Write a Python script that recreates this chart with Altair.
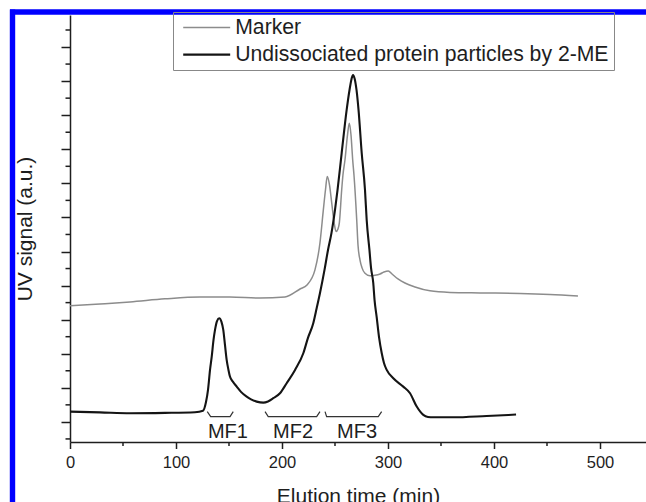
import altair as alt
import pandas as pd

# ---- data ----
series_names = ["Marker", "Undissociated protein particles by 2-ME"]

marker_x = [0, 28.3, 56.6, 89.6, 122.6, 150.9, 179.2, 202.8, 217.0, 223.6, 231.1, 235.8,
            239.0, 241.0, 242.7, 244.8, 246.9, 249.1, 251.0, 252.8, 254.1, 256.3, 257.5,
            259.4, 261.8, 263.5, 265.1, 266.7, 267.9, 270.5, 271.7, 273.6, 275.5, 278.3,
            283.0, 287.7, 292.5, 296.2, 300.3, 303.8, 309.4, 316.0, 325.5, 339.6, 358.5,
            386.8, 424.5, 452.8, 479.2]
marker_y = [7.81, 7.92, 8.04, 8.22, 8.33, 8.33, 8.27, 8.33, 8.80, 9.04, 9.92, 11.50,
            13.44, 14.61, 15.40, 14.91, 13.85, 12.73, 12.17, 12.32, 12.68, 14.61, 15.49,
            16.37, 17.84, 18.53, 17.84, 16.37, 15.49, 12.85, 11.38, 10.50, 10.04, 9.72,
            9.57, 9.60, 9.68, 9.80, 9.86, 9.68, 9.39, 9.15, 8.92, 8.69, 8.60,
            8.57, 8.54, 8.48, 8.39]

sample_x = [0, 28.3, 56.6, 89.6, 117.9, 125.5, 128.3, 130.2, 132.1, 133.7, 135.4, 136.8,
            138.7, 140.8, 142.9, 144.6, 146.2, 147.8, 149.5, 150.9, 153.8, 157.3, 161.3,
            166.7, 170.8, 176.1, 182.4, 186.8, 191.8, 198.1, 204.4, 212.3, 220.1, 224.5,
            229.5, 232.7, 235.8, 240.1, 243.4, 246.7, 250.0, 252.4, 256.3, 261.0, 263.7,
            265.6, 267.0, 268.6, 270.3, 272.2, 275.2, 278.3, 279.9, 282.5, 284.0, 286.1,
            287.3, 289.3, 291.5, 294.1, 296.2, 298.8, 305.0, 314.4, 320.8, 327.1, 333.3,
            337.7, 342.7, 361.6, 393.1, 420.8]
sample_y = [1.60, 1.56, 1.51, 1.53, 1.57, 1.66, 2.17, 2.88, 4.05, 4.83, 5.81, 6.40,
            6.92, 7.08, 6.87, 6.40, 5.52, 4.64, 4.05, 3.66, 3.35, 3.07, 2.76,
            2.48, 2.32, 2.19, 2.13, 2.20, 2.39, 2.68, 3.27, 4.05, 5.03, 5.93,
            6.79, 7.67, 8.55, 9.92, 11.09, 12.09, 13.44, 14.61, 16.78, 19.31, 20.48,
            21.13, 21.36, 21.13, 20.48, 19.31, 16.78, 14.61, 12.85, 11.09, 10.04, 9.15,
            8.16, 7.16, 5.99, 5.03, 4.46, 4.05, 3.56, 3.07, 2.68, 1.90, 1.41,
            1.29, 1.27, 1.27, 1.35, 1.43]

mf_labels = ["MF1", "MF2", "MF3"]
mf_label_x = [149.0, 210.4, 270.8]
mf_label_y = [0.06, 0.06, 0.06]
mf1_x = [129.5, 132.7, 151.0, 154.0]
mf2_x = [184.0, 187.0, 232.7, 235.8]
mf3_x = [240.6, 242.1, 290.8, 294.0]
bracket_y = [1.60, 1.31, 1.31, 1.60]

x_major_ticks = [0, 100, 200, 300, 400, 500]
x_minor_ticks = [50, 150, 250, 350, 450]
y_major_ticks = [1, 3, 5, 7, 9, 11, 13, 15, 17, 19, 21, 23]
y_minor_ticks = [0, 2, 4, 6, 8, 10, 12, 14, 16, 18, 20, 22, 24]

# ---- tables ----
lines = pd.concat([
    pd.DataFrame({"t": marker_x, "s": marker_y, "series": series_names[0], "order": range(len(marker_x))}),
    pd.DataFrame({"t": sample_x, "s": sample_y, "series": series_names[1], "order": range(len(sample_x))}),
])
brackets = pd.concat([
    pd.DataFrame({"t": xs, "s": bracket_y, "group": name, "order": range(4)})
    for name, xs in zip(mf_labels, [mf1_x, mf2_x, mf3_x])
])
labels = pd.DataFrame({"t": mf_label_x, "s": mf_label_y, "label": mf_labels})
x_minor = pd.DataFrame({"t": x_minor_ticks})
y_minor = pd.DataFrame({"s": y_minor_ticks})

FONT = "Liberation Sans"
INK = "#1e1e1e"
W, H = 576, 427

x_scale = alt.Scale(domain=[0, 543.4], nice=False, zero=False)
y_scale = alt.Scale(domain=[-0.18, 24.88], nice=False, zero=False)

x_axis = alt.Axis(
    values=x_major_ticks, tickSize=6.5,
    title="Elution time (min)",
    grid=False, labelFontSize=16.5, titleFontSize=21, labelPadding=6, titlePadding=14,
    labelFont=FONT, titleFont=FONT, titleFontWeight="normal",
    labelColor=INK, titleColor=INK, domainColor=INK, tickColor=INK,
    domainWidth=1.5, tickWidth=1.5, labelFlush=False, labelOverlap=False,
)
y_axis = alt.Axis(
    values=y_major_ticks, labels=False, tickSize=9,
    title="UV signal (a.u.)",
    grid=False, titleFontSize=21, titlePadding=25, titleFont=FONT, titleFontWeight="normal",
    titleColor=INK, domainColor=INK, tickColor=INK, domainWidth=1.5, tickWidth=1.5,
)

X = alt.X("t:Q", scale=x_scale, axis=x_axis)
Y = alt.Y("s:Q", scale=y_scale, axis=y_axis)

line_layer = alt.Chart(lines).mark_line(interpolate="monotone").encode(
    x=X, y=Y,
    color=alt.Color(
        "series:N",
        scale=alt.Scale(domain=series_names, range=["#8c8c8c", "#141414"]),
        legend=alt.Legend(
            title=None, orient="none", legendX=103, legendY=-3,
            direction="vertical", strokeColor="#888888", padding=5,
            symbolType="M-0.574,0H4.426", symbolSize=353, symbolStrokeWidth=1.6,
            labelFont=FONT, labelFontSize=21.2, labelColor=INK, labelOffset=36,
            rowPadding=5, labelLimit=1000,
        ),
    ),
    strokeWidth=alt.StrokeWidth(
        "series:N", scale=alt.Scale(domain=series_names, range=[1.5, 2.1]), legend=None
    ),
    order="order:Q",
)

bracket_layer = alt.Chart(brackets).mark_line(color="#333333", strokeWidth=1.2).encode(
    x=X, y=Y, detail="group:N", order="order:Q"
)

label_layer = alt.Chart(labels).mark_text(
    font=FONT, fontSize=20, color=INK, align="center", baseline="alphabetic"
).encode(x=X, y=Y, text="label:N")

x_minor_layer = alt.Chart(x_minor).mark_rule(color=INK, strokeWidth=1.5).encode(
    x=X, y=alt.value(H), y2=alt.value(H + 4)
)
y_minor_layer = alt.Chart(y_minor).mark_rule(color=INK, strokeWidth=1.5).encode(
    y=Y, x=alt.value(0), x2=alt.value(-4.5)
)

dummy = alt.Data(values=[{"a": 1}])
blue_top = alt.Chart(dummy).mark_rule(color="#0000ff", strokeWidth=5.4, strokeCap="butt").encode(
    x=alt.value(-60), x2=alt.value(W), y=alt.value(-3)
)
blue_left = alt.Chart(dummy).mark_rule(color="#0000ff", strokeWidth=5.4, strokeCap="butt").encode(
    x=alt.value(-57.5), y=alt.value(-5.5), y2=alt.value(H + 60)
)

chart = alt.layer(
    line_layer, bracket_layer, label_layer, x_minor_layer, y_minor_layer, blue_top, blue_left
).properties(
    width=W, height=H,
    autosize=alt.AutoSizeParams(type="none"),
    padding={"left": 70, "top": 15, "right": 0, "bottom": 60},
    background="white",
).configure_view(stroke=None)

chart.save("out.html", embed_options={"renderer": "svg", "actions": False})
